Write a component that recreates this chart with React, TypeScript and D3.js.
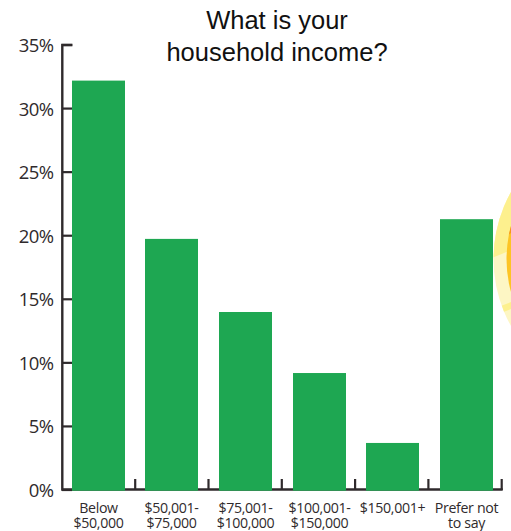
import React from "react";
import * as d3 from "d3";

const categories = [["Below", "$50,000"], ["$50,001-", "$75,000"], ["$75,001-", "$100,000"], ["$100,001-", "$150,000"], ["$150,001+"], ["Prefer not", "to say"]];
const shares = [32.2, 19.75, 14, 9.2, 3.7, 21.3];
const yTicks = [0, 5, 10, 15, 20, 25, 30, 35];
const titleLines = ["What is your", "household income?"];

const W = 511, H = 531;
const axisFont = "'Open Sans', sans-serif";
const ink = "#2f2a2c";
const y = d3.scaleLinear().domain([0, 35]).range([490, 45]);
const x = d3.scaleBand<number>().domain(d3.range(6)).range([61.7, 503.3]).paddingInner(0.28).paddingOuter(0.14);
const barLeft = (i: number) => Math.round(x(i)! - 0.3);
const sepX = d3.scaleLinear().domain([0, 5]).range([135.2, 501.7]);
const line = d3.line();

// Decorative sun that peeks in from the right edge
const sun = { cx: 630.5, cy: 259, outer: 137, inner: 124 };
const upperRay: [number, number][] = [[485, 180], [511, 180], [511, 250], [485, 261]];
const brightRay: [number, number][] = [[485, 312], [511, 302], [511, 309], [485, 319]];
const orangeRay: [number, number][] = [[500, 220], [511, 220], [511, 233], [500, 240]];

export default function App() {
  return (
    <svg width={W} height={H} style={{ position: "absolute", left: 0, top: 0, background: "#fff" }}>
      <defs>
        <clipPath id="sun-outer"><circle cx={sun.cx} cy={sun.cy} r={sun.outer} /></clipPath>
        <clipPath id="sun-inner"><circle cx={sun.cx} cy={sun.cy} r={sun.inner} /></clipPath>
      </defs>
      <g>
        <circle cx={sun.cx} cy={sun.cy} r={sun.outer} fill="#fdf6c4" />
        <g clipPath="url(#sun-outer)">
          <path d={line(upperRay)! + "Z"} fill="#fdf08e" />
          <path d={line(brightRay)! + "Z"} fill="#fdf08e" />
        </g>
        <circle cx={sun.cx} cy={sun.cy} r={sun.inner} fill="#fdc425" />
        <path d={line(orangeRay)! + "Z"} fill="#f7941e" clipPath="url(#sun-inner)" />
      </g>
      <g fontFamily="'Liberation Sans', Arial, sans-serif" fontSize={25.5} fill="#111" textAnchor="middle">
        {titleLines.map((t, i) => <text key={t} x={277} y={29 + i * 32}>{t}</text>)}
      </g>
      <path d={`M72.5,45H62.3V489.5H${sepX(5) + 1}`} fill="none" stroke={ink} strokeWidth={2.4} />
      {yTicks.map(t => (
        <g key={t}>
          <line x1={62} x2={72} y1={y(t)} y2={y(t)} stroke={ink} strokeWidth={2.2} />
          <text x={53.5} y={y(t) + 7} textAnchor="end" fontFamily={axisFont} fontSize={18.5} letterSpacing={-0.6} fill={ink}>{t}%</text>
        </g>
      ))}
      {shares.map((v, i) => (
        <g key={i}>
          <rect x={barLeft(i)} y={y(v)} width={53} height={y(0) - y(v) + 0.7} fill="#1ea752" />
          <line x1={sepX(i)} x2={sepX(i)} y1={479} y2={490} stroke={ink} strokeWidth={2.2} />
          {categories[i].map((l, j) => (
            <text key={l} x={barLeft(i) + 26.5} y={513 + j * 15} textAnchor="middle" fontFamily={axisFont} fontSize={14.2} letterSpacing={-0.35} fill={ink}>{l}</text>
          ))}
        </g>
      ))}
    </svg>
  );
}
